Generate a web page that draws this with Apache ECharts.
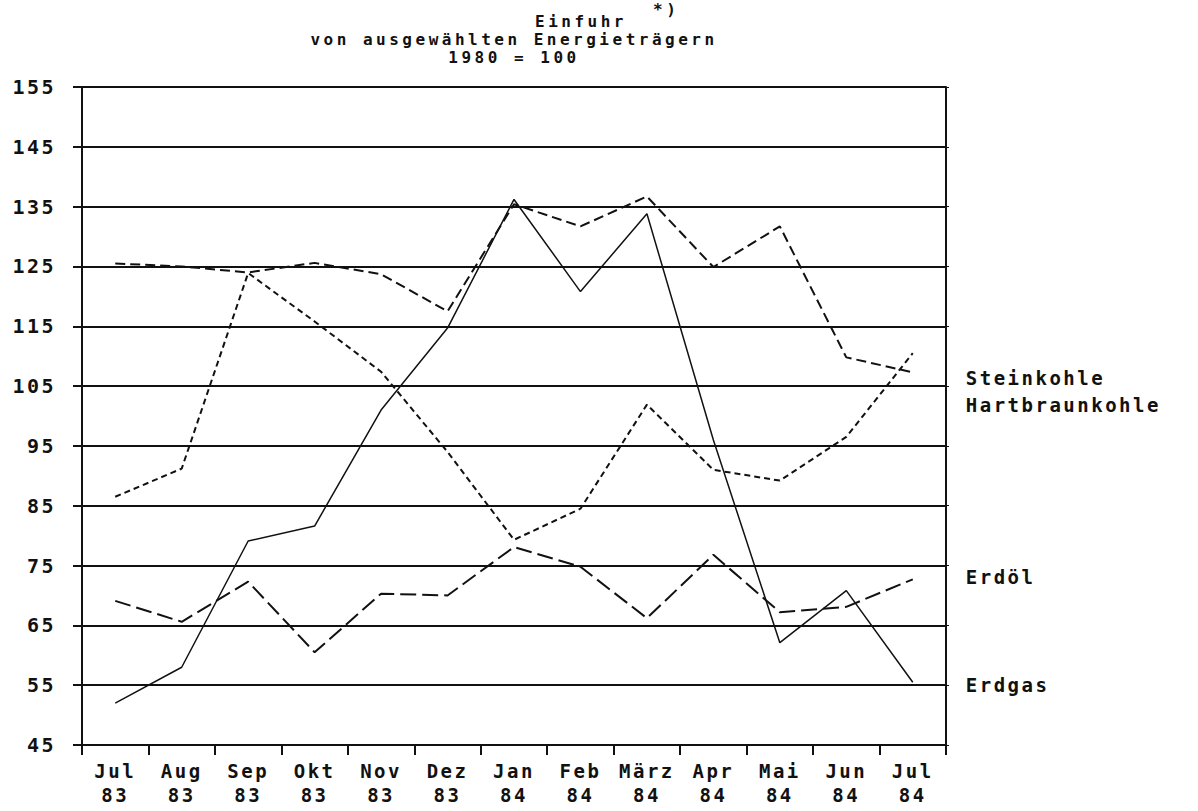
<!DOCTYPE html>
<html>
<head>
<meta charset="utf-8">
<script src="https://cdn.jsdelivr.net/npm/echarts@6/dist/echarts.min.js"></script>
<style>
  html, body { margin: 0; padding: 0; background: #fff; }
  #chart { width: 1198px; height: 811px; }
</style>
</head>
<body>
<div id="chart"></div>
<script>
// Monate Jul 83 .. Jul 84
const months = ['Jul\n83', 'Aug\n83', 'Sep\n83', 'Okt\n83', 'Nov\n83', 'Dez\n83',
  'Jan\n84', 'Feb\n84', 'März\n84', 'Apr\n84', 'Mai\n84', 'Jun\n84', 'Jul\n84']

// Index 1980 = 100
const steinkohle = [86.5, 91.2, 123.9, 115.8, 107.4, 94, 79.3, 84.5, 101.9, 91, 89.2, 96.5, 110.5]
const hartbraunkohle = [125.5, 125, 124, 125.6, 123.7, 117.5, 135.4, 131.7, 136.7, 124.9, 131.7, 109.8, 107.3]
const erdoel = [69.1, 65.6, 72.3, 60.5, 70.3, 70, 78.1, 74.8, 66.2, 76.8, 67.2, 68.1, 72.7]
const erdgas = [52, 58, 79.1, 81.6, 101, 114.7, 136.2, 120.8, 133.8, 96, 62.1, 70.8, 55.5]

const font = "'DejaVu Sans Mono', monospace"
const ink = '#111'
const txt = { fontFamily: font, fontWeight: 'bold', color: ink }
const titleStyle = { ...txt, fontSize: 16, lineHeight: 18 }

// svg, damit die Sperrschrift (letter-spacing) wie im Plotterbild geht
const chart = echarts.init(document.getElementById('chart'), null, { renderer: 'svg' })

function line(name, data, width, dash, labelOffset) {
  return {
    name,
    type: 'line',
    data,
    symbol: 'none',
    lineStyle: { color: ink, width, type: dash },
    endLabel: {
      show: true,
      formatter: '{a}',
      ...txt,
      fontSize: 19,
      distance: 53,
      offset: [0, labelOffset]
    },
    emphasis: { disabled: true }
  }
}

chart.setOption({
  animation: false,
  title: [
    { text: 'Einfuhr', left: 535, top: 12, padding: 0, textStyle: titleStyle },
    { text: '*)', left: 653, top: 0, padding: 0, textStyle: titleStyle },
    { text: 'von ausgewählten Energieträgern', left: 514, top: 30, padding: 0, textAlign: 'center', textStyle: titleStyle },
    { text: '1980 = 100', left: 514, top: 48, padding: 0, textAlign: 'center', textStyle: titleStyle }
  ],
  grid: { left: 82, right: 252, top: 87, bottom: 66 },
  xAxis: {
    type: 'category',
    data: months,
    boundaryGap: true,
    axisLine: { lineStyle: { color: ink, width: 2 } },
    axisTick: { show: true, interval: 0, length: 10, lineStyle: { color: ink, width: 2 } },
    axisLabel: { interval: 0, ...txt, fontSize: 19, lineHeight: 24, margin: 14 }
  },
  yAxis: [{
    type: 'value',
    min: 45,
    max: 155,
    interval: 10,
    axisLine: { show: true, lineStyle: { color: ink, width: 2 } },
    axisTick: { show: true, length: 9, lineStyle: { color: ink, width: 2 } },
    axisLabel: { ...txt, fontSize: 20, margin: 26 },
    splitLine: { lineStyle: { color: ink, width: 2 } }
  }, {
    type: 'value',
    position: 'right',
    min: 45,
    max: 155,
    interval: 10,
    axisLine: { show: true, lineStyle: { color: ink, width: 2 } },
    axisTick: { show: true, length: 3, lineStyle: { color: ink, width: 1 } },
    axisLabel: { show: false },
    splitLine: { show: false }
  }],
  series: [
    line('Steinkohle', steinkohle, 2, [6, 4], 25),
    line('Hartbraunkohle', hartbraunkohle, 2, [10, 5], 33),
    line('Erdöl', erdoel, 2, [16, 6], -2),
    line('Erdgas', erdgas, 1.5, 'solid', 3)
  ]
})

function spreadText() {
  document.querySelectorAll('#chart svg text').forEach(el => {
    // Titelzeilen etwas weiter gesperrt, damit die Breite zur Vorlage passt
    const big = el.getAttribute('style') && el.getAttribute('style').includes('16px')
    el.setAttribute('letter-spacing', big ? '3.5px' : '2.5px')
  })
}
spreadText()
chart.on('finished', spreadText)
</script>
</body>
</html>
